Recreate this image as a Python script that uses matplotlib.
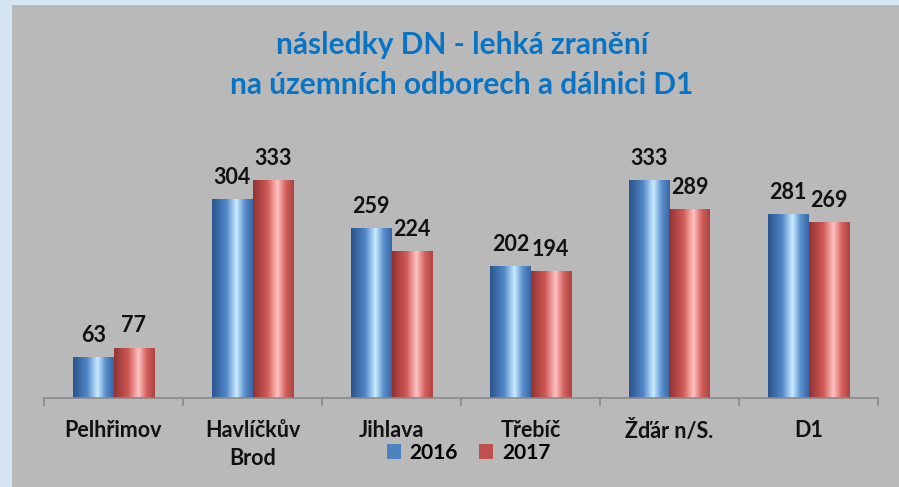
import numpy as np
import matplotlib.pyplot as plt
from matplotlib.colors import LinearSegmentedColormap
from matplotlib.patches import Rectangle, Patch

# data
categories = ["Pelhřimov", "Havlíčkův\nBrod", "Jihlava", "Třebíč", "Žďár n/S.", "D1"]
years = ["2016", "2017"]
vals_2016 = [63, 304, 259, 202, 333, 281]
vals_2017 = [77, 333, 224, 194, 289, 269]

plt.rcParams['font.family'] = ['Lato', 'DejaVu Sans']

fig = plt.figure(figsize=(8.99, 4.87), dpi=100)
fig.patch.set_facecolor("#d5e5f4")
# grey panel behind the chart
fig.patches.append(Rectangle((12/899, 0), 1, (487-5)/487, transform=fig.transFigure,
                             facecolor="#b9b9b9", edgecolor="none", zorder=-5))

ax = fig.add_axes([44/899, (487-398)/487, 834/899, 262/487])
ax.set_facecolor("none")

blue_cm = LinearSegmentedColormap.from_list("b", [(0, "#29538a"), (0.35, "#5387c9"), (0.6, "#c8ecff"),
                                                   (0.8, "#5a8ecd"), (1, "#3765a2")])
red_cm = LinearSegmentedColormap.from_list("r", [(0, "#913331"), (0.35, "#cf5956"), (0.6, "#ffc3c1"),
                                                  (0.8, "#d4605d"), (1, "#ab4340")])
grad = np.linspace(0, 1, 256).reshape(1, -1)

x = np.arange(len(categories))
w = 0.29
for vals, off, cm in [(vals_2016, -w/2, blue_cm), (vals_2017, w/2, red_cm)]:
    bars = ax.bar(x + off, vals, w, color="none", edgecolor="none", zorder=2)
    for b, v in zip(bars, vals):
        x0 = b.get_x()
        im = ax.imshow(grad, cmap=cm, extent=[x0, x0 + w, 0, v], aspect="auto", zorder=2)
        im.set_clip_path(b)
        ax.text(x0 + w/2, v + 17, str(v), ha="center", va="bottom", fontsize=15.5,
                fontweight="bold", color="#111111", zorder=3)

ax.set_xlim(-0.5, len(categories) - 0.5)
ax.set_ylim(0, 400)
ax.set_yticks([])
for s in ["top", "right", "left"]:
    ax.spines[s].set_visible(False)
ax.spines["bottom"].set_color("#8a8a8a")
ax.spines["bottom"].set_linewidth(1.2)
ax.set_xticks(x)
ax.set_xticklabels(categories, fontsize=15.5, fontweight="bold", color="#111111", linespacing=1.4)
ax.tick_params(axis="x", length=0, pad=16)
ax.set_xticks(np.arange(-0.5, len(categories)), minor=True)
ax.tick_params(axis="x", which="minor", length=6, color="#8a8a8a", width=1.2)

fig.text(0.514, 1 - 65/487, "následky DN - lehká zranění\nna územních odborech a dálnici D1",
         ha="center", va="center", fontsize=21.5, fontweight="bold", color="#0a74c4", linespacing=1.55)

handles = [Patch(facecolor="#4f81bd"), Patch(facecolor="#c0504d")]
fig.legend(handles, years, loc="center", bbox_to_anchor=(0.521, 1 - 453/487), ncol=2,
           frameon=False, prop={"size": 15, "weight": "bold"}, handlelength=0.7, handleheight=0.7,
           handletextpad=0.4, columnspacing=1.0)

fig.savefig("out.png", dpi=100, facecolor=fig.get_facecolor())
